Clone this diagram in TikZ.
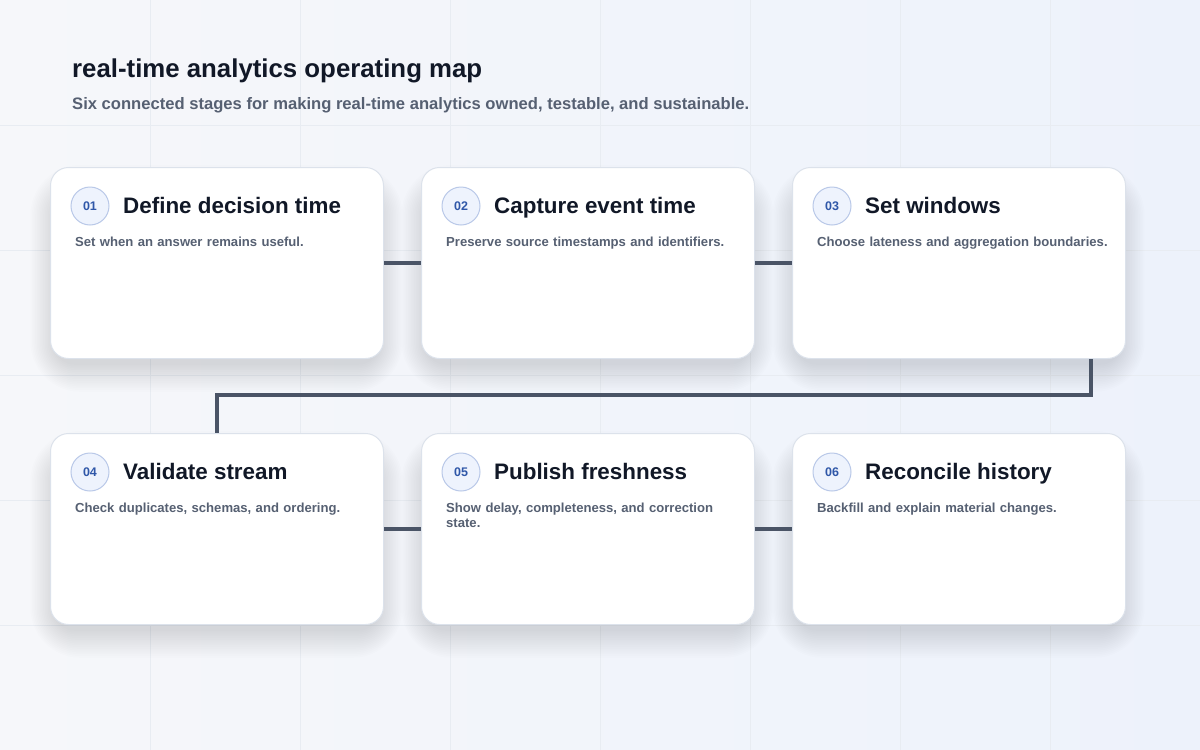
\documentclass[tikz,border=0pt]{standalone}
\usepackage{fontspec}
\setmainfont{Liberation Sans}
\usepackage{tikz}
\usetikzlibrary{calc}
\definecolor{MapPaper}{HTML}{F6F7FA}
\definecolor{MapPaperBlue}{HTML}{EDF2FB}
\definecolor{MapGrid}{HTML}{E8ECF2}
\definecolor{MapInk}{HTML}{111827}
\definecolor{MapSlate}{HTML}{566072}
\definecolor{MapLink}{HTML}{4A5466}
\definecolor{MapBorder}{HTML}{DCE2EB}
\definecolor{MapShadow}{HTML}{22304F}
\definecolor{MapBadge}{HTML}{EEF3FD}
\definecolor{MapBadgeRing}{HTML}{B9C8E8}
\definecolor{MapBadgeText}{HTML}{2F57A8}

\tikzset{
  card/.style={draw=MapBorder, line width=1pt, fill=white, rounded corners=18pt,
    minimum width=333pt, minimum height=191pt, anchor=north west, inner sep=0pt},
  cardshade/.style={fill=MapShadow, fill opacity=0.0065, draw=none},
  badge/.style={circle, draw=MapBadgeRing, fill=MapBadge, line width=1pt, minimum size=38pt,
    inner sep=0pt, text=MapBadgeText, font=\bfseries\fontsize{12.5}{14}\selectfont},
  stagetitle/.style={anchor=base west, inner sep=0pt, text=MapInk, font=\bfseries\fontsize{22.4}{26}\selectfont},
  stagetext/.style={anchor=base west, inner sep=0pt, text width=300pt, align=left,
    text=MapSlate, font=\bfseries\fontsize{13.1}{15.5}\selectfont},
  link/.style={draw=MapLink, line width=4pt}
}

\begin{document}
\begin{tikzpicture}[x=1pt,y=-1pt]
    \useasboundingbox (0,0) rectangle (1200,750);
    \shade[left color=MapPaper, right color=MapPaperBlue] (0,0) rectangle (1200,750);
    \foreach \gx in {150,300,...,1050} {
     \draw[MapGrid, line width=0.8pt] (\gx,0) -- (\gx,750);
    }
    \foreach \gy in {125,250,...,625} {
     \draw[MapGrid, line width=0.8pt] (0,\gy) -- (1200,\gy);
    }

    \node[anchor=base west, inner sep=0pt, text=MapInk, font=\bfseries\fontsize{25.8}{30}\selectfont] (maptitle) at (72,77) {real-time analytics operating map};
    \node[anchor=base west, inner sep=0pt, text=MapSlate, font=\bfseries\fontsize{16.6}{20}\selectfont] (mapsub) at (72,109) {Six connected stages for making real-time analytics owned, testable, and sustainable.};

    \foreach \i/\x/\y/\stage/\note in
    {01/50/167/Define decision time/{Set when an answer remains useful.},
     02/421/167/Capture event time/{Preserve source timestamps and identifiers.},
     03/792/167/Set windows/{Choose lateness and aggregation boundaries.},
     04/50/433/Validate stream/{Check duplicates, schemas, and ordering.},
     05/421/433/Publish freshness/{Show delay, completeness, and correction state.},
     06/792/433/Reconcile history/{Backfill and explain material changes.}} {
     \foreach \k in {1,2,...,16} {
      \fill[cardshade, rounded corners=18pt+2*\k pt] (\x+6-1.6*\k,\y+30-2*\k) rectangle (\x+327+1.6*\k,\y+196+1.8*\k);
     }
     \node[card] (card\i) at (\x,\y) {};
     \node[badge] (badge\i) at (\x+40,\y+39) {\i};
     \node[stagetitle] (title\i) at (\x+73,\y+46) {\stage};
     \node[stagetext] (note\i) at (\x+25,\y+79) {\note};
    }

    \draw[link] (card01.east) -- (card02.west);
    \draw[link] (card02.east) -- (card03.west);
    \draw[link] (card04.east) -- (card05.west);
    \draw[link] (card05.east) -- (card06.west);
    \coordinate (turn) at (1091,395);
    \draw[link] (card03.south -| turn) |- (card04.north |- turn) -- (card04.north);
\end{tikzpicture}
\end{document}
